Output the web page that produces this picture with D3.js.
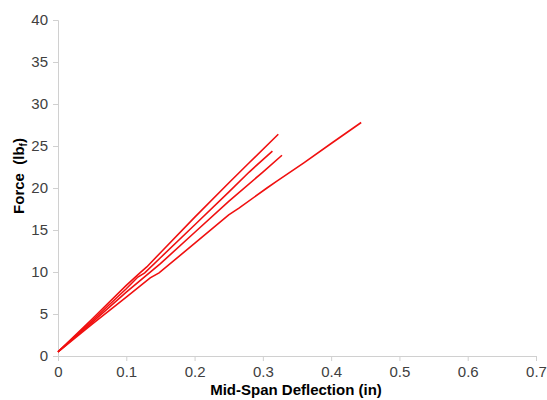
<!DOCTYPE html>
<html>
<head>
<meta charset="utf-8">
<script src="https://cdn.jsdelivr.net/npm/d3@7"></script>
<style>
  body { margin: 0; background: #fff; }
  svg { font-family: "Liberation Sans", Arial, sans-serif; }
</style>
</head>
<body>
<script>
// four specimens, [deflection (in), force (lbf)]
const specA = [[0,0.5],[0.05,4.4],[0.1,8.4],[0.12,9.9],[0.13,10.6],[0.15,12.3],[0.2,16.5],[0.25,20.6],[0.28,23.0],[0.3226,26.4]];
const specB = [[0,0.5],[0.05,4.2],[0.1,8.0],[0.117,9.4],[0.127,9.9],[0.15,11.7],[0.2,15.6],[0.25,19.5],[0.28,21.9],[0.314,24.4]];
const specC = [[0,0.5],[0.05,4.0],[0.1,7.6],[0.15,11.0],[0.2,14.7],[0.25,18.4],[0.3,21.9],[0.328,23.9]];
const specD = [[0,0.5],[0.05,3.8],[0.1,7.0],[0.135,9.3],[0.148,9.9],[0.2,13.4],[0.25,16.8],[0.265,17.6],[0.306,20.0],[0.32,20.8],[0.36,23.0],[0.4,25.3],[0.444,27.8]];
const series = [specA, specB, specC, specD];

const xTicks = [0, 0.1, 0.2, 0.3, 0.4, 0.5, 0.6, 0.7];
const yTicks = [0, 5, 10, 15, 20, 25, 30, 35, 40];

const W = 547, H = 400;
const svg = d3.select("body").append("svg").attr("width", W).attr("height", H);

const x = d3.scaleLinear().domain([0, 0.7]).range([58, 536]);
const y = d3.scaleLinear().domain([0, 40]).range([356, 20]);

const xAxis = d3.axisBottom(x).tickValues(xTicks).tickSize(5).tickPadding(5)
  .tickFormat(d => d === 0 ? "0" : d3.format(".1f")(d));
const yAxis = d3.axisLeft(y).tickValues(yTicks).tickSize(5).tickPadding(5);

const gx = svg.append("g").attr("transform", "translate(0," + y(0) + ")").call(xAxis);
const gy = svg.append("g").attr("transform", "translate(" + x(0) + ",0)").call(yAxis);

[gx, gy].forEach(g => {
  g.select(".domain").attr("stroke", "#d0d0d0");
  g.selectAll(".tick line").attr("stroke", "#d0d0d0");
  g.selectAll(".tick text").attr("fill", "#404040").style("font-size", "15px");
});

const line = d3.line().x(d => x(d[0])).y(d => y(d[1]));

svg.selectAll("path.spec")
  .data(series)
  .enter()
  .append("path")
  .attr("class", "spec")
  .attr("d", line)
  .attr("fill", "none")
  .attr("stroke", "#f01010")
  .attr("stroke-width", 1.6);

// axis titles
svg.append("text")
  .attr("x", 296).attr("y", 395)
  .attr("text-anchor", "middle")
  .style("font-size", "15px").style("font-weight", "bold")
  .text("Mid-Span Deflection (in)");

const yt = svg.append("text")
  .attr("transform", "translate(24,176) rotate(-90)")
  .attr("text-anchor", "middle")
  .style("font-size", "15px").style("font-weight", "bold")
  .style("white-space", "pre");
yt.append("tspan").text("Force  (lb");
yt.append("tspan").attr("dy", 3).style("font-size", "10px").text("f");
yt.append("tspan").attr("dy", -3).text(")");
</script>
</body>
</html>
